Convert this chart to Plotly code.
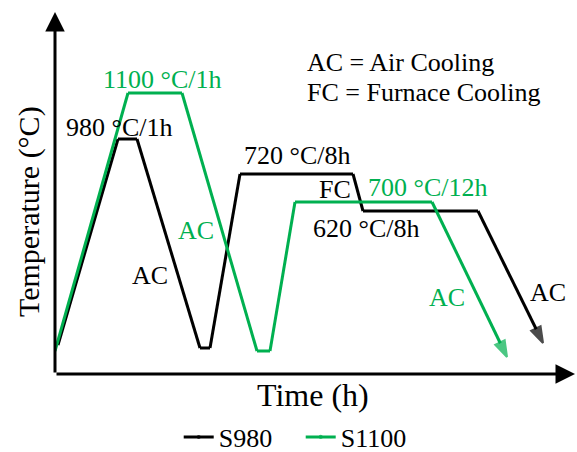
import plotly.graph_objects as go

# Schematic heat-treatment paths (arbitrary units: time, temperature level)
time_s980 = [3, 63, 82, 145, 155, 185, 298, 308, 423, 488]
temp_s980 = [29, 235, 235, 26, 26, 200, 200, 163, 163, 31]

time_s1100 = [0, 73, 127, 202, 215, 240, 377, 452]
temp_s1100 = [23, 281, 281, 23, 23, 172, 172, 17]

series_names = ["S980", "S1100"]
colors = ["#000000", "#00B050"]

FONT = "Liberation Serif"

fig = go.Figure()
for name, t, T, c in zip(series_names, [time_s980, time_s1100], [temp_s980, temp_s1100], colors):
    n = len(t)
    fig.add_trace(go.Scatter(
        x=t, y=T, name=name, mode="lines+markers",
        line=dict(color=c, width=3),
        marker=dict(symbol=["circle"] * (n - 1) + ["arrow"],
                    size=[0] * (n - 1) + [17],
                    angleref="previous", color=c, line=dict(width=2, color=c)),
        cliponaxis=False,
    ))

# labels: (text, x, y, color, xanchor)
labels = [
    ("1100 °C/1h", 107, 295, colors[1], "center"),
    ("980 °C/1h", 64, 247, colors[0], "center"),
    ("AC", 95, 99, colors[0], "center"),
    ("AC", 141, 144, colors[1], "center"),
    ("720 °C/8h", 242, 219, colors[0], "center"),
    ("FC", 280, 185, colors[0], "center"),
    ("700 °C/12h", 372, 187, colors[1], "center"),
    ("620 °C/8h", 311, 146, colors[0], "center"),
    ("AC", 392, 77, colors[1], "center"),
    ("AC", 493, 82, colors[0], "center"),
    ("AC = Air Cooling", 250, 312, colors[0], "left"),
    ("FC = Furnace Cooling", 250, 282, colors[0], "left"),
]
annotations = []
for txt, x, y, c, xa in labels:
    annotations.append(dict(text=txt, x=x, y=y, xref="x", yref="y", showarrow=False,
                            xanchor=xa, yanchor="middle",
                            font=dict(family=FONT, size=26, color=c)))

# axis arrows
annotations.append(dict(x=520, y=0, ax=0, ay=0, xref="x", yref="y", axref="x", ayref="y",
                        text="", showarrow=True, arrowhead=2, arrowsize=1.3, arrowwidth=3,
                        arrowcolor="black"))
annotations.append(dict(x=0, y=362, ax=0, ay=0, xref="x", yref="y", axref="x", ayref="y",
                        text="", showarrow=True, arrowhead=2, arrowsize=1.3, arrowwidth=3,
                        arrowcolor="black"))
# axis titles
annotations.append(dict(text="Time (h)", x=0.494, y=-0.058, xref="paper", yref="paper",
                        showarrow=False, xanchor="center", yanchor="middle",
                        font=dict(family=FONT, size=32, color="black")))
annotations.append(dict(text="Temperature (°C)", x=-0.0498, y=0.4475, xref="paper", yref="paper",
                        showarrow=False, xanchor="center", yanchor="middle", textangle=-90,
                        font=dict(family=FONT, size=30, color="black")))

fig.update_layout(
    width=577, height=452,
    margin=dict(l=55, r=0, t=12, b=78, autoexpand=False),
    paper_bgcolor="white", plot_bgcolor="white",
    xaxis=dict(range=[0, 522], visible=False, fixedrange=True),
    yaxis=dict(range=[0, 362], visible=False, fixedrange=True),
    annotations=annotations,
    showlegend=True,
    legend=dict(orientation="h", x=0.237, xanchor="left", y=-0.174, yanchor="middle",
                font=dict(family=FONT, size=26, color="black"),
                bgcolor="rgba(0,0,0,0)", itemwidth=30, entrywidth=77),
)

fig.write_html("out.html")
